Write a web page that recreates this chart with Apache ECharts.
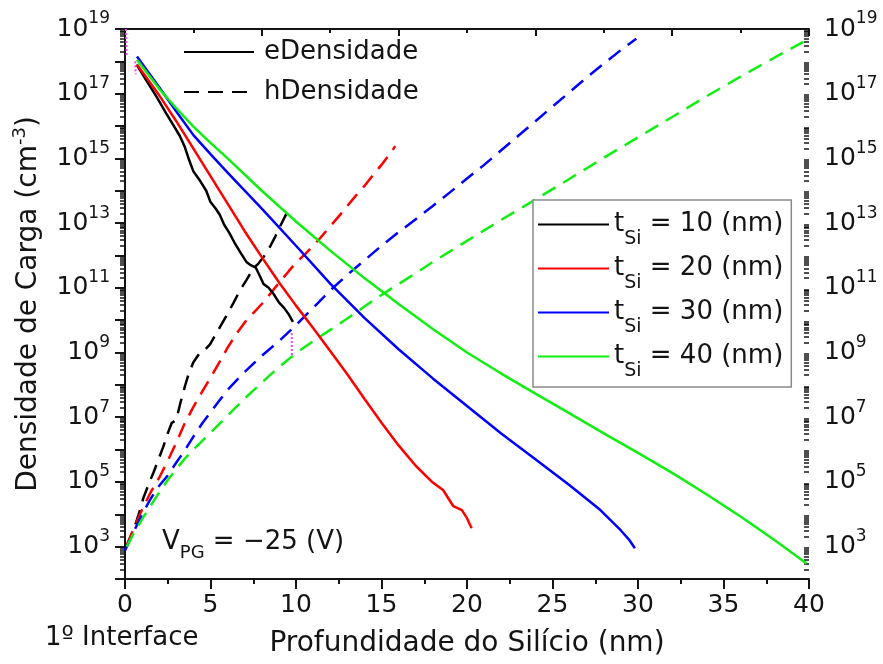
<!DOCTYPE html>
<html>
<head>
<meta charset="utf-8">
<script src="https://cdn.jsdelivr.net/npm/echarts@6/dist/echarts.min.js"></script>
<style>
  html, body { margin: 0; padding: 0; background: #fff; }
  #chart { width: 883px; height: 664px; }
</style>
</head>
<body>
<div id="chart"></div>
<script>
// Silicon film thicknesses and their line colours
const thicknessNm = [10, 20, 30, 40];
const seriesColors = ['#000000', '#ff0000', '#0000ff', '#11ee11'];

// Electron density: [depth (nm), log10(density / cm^-3)]
const electron10 = [[0.68,17.9],[1.2,17.45],[1.85,16.9],[2.4,16.4],[2.8,16.05],[3.2,15.7],[3.5,15.35],[3.75,14.95],[4.0,14.6],[4.4,14.3],[4.75,14.0],[5.0,13.65],[5.3,13.45],[5.55,13.25],[5.8,12.95],[6.1,12.7],[6.4,12.4],[6.8,12.05],[7.1,11.8],[7.3,11.72],[7.65,11.62],[7.9,11.35],[8.1,11.12],[8.4,11.0],[8.7,10.8],[9.0,10.55],[9.3,10.38],[9.55,10.2],[9.82,9.95]];
const electron20 = [[0.7,17.9],[2,16.95],[3,16.15],[4,15.3],[5,14.45],[6,13.6],[7,12.75],[8,11.95],[9,11.17],[10,10.45],[11,9.76],[12,9.05],[13,8.33],[14,7.57],[15,6.83],[16,6.13],[17,5.5],[18,4.98],[18.6,4.75],[19.2,4.25],[19.7,4.13],[20.0,3.88],[20.27,3.57]];
const electron30 = [[0.7,18.15],[2,17.2],[3,16.45],[4,15.72],[5,15.13],[6,14.56],[8,13.45],[10,12.3],[12,11.13],[14,10.07],[16,9.1],[18,8.2],[20,7.35],[22,6.5],[24,5.7],[26,4.9],[27.8,4.13],[29,3.5],[29.5,3.2],[29.82,2.95]];
const electron40 = [[0.7,18.05],[2,17.15],[3,16.55],[4,15.98],[5,15.48],[6,15.0],[8,14.0],[10,13.05],[12,12.15],[14,11.3],[16,10.5],[18,9.73],[20,9.0],[22,8.35],[24,7.73],[26,7.12],[28,6.5],[30,5.9],[32,5.28],[34,4.62],[36,3.93],[38,3.2],[39.86,2.48]];

// Hole density: [depth (nm), log10(density / cm^-3)]
const hole10 = [[0.1,3.0],[0.49,3.5],[0.8,4.0],[1.07,4.5],[1.4,4.95],[1.65,5.27],[2.0,5.75],[2.24,6.09],[2.5,6.5],[2.73,6.82],[3.0,6.92],[3.22,7.4],[3.5,7.95],[3.7,8.3],[4.0,8.7],[4.39,9.0],[4.7,9.1],[4.97,9.25],[5.46,9.7],[6.0,10.2],[6.33,10.52],[6.7,10.9],[7.1,11.24],[7.5,11.6],[7.8,11.75],[8.1,11.95],[8.48,12.27],[8.8,12.6],[9.06,12.89],[9.45,13.3]];
const hole20 = [[0.1,3.05],[0.5,3.55],[1.0,4.15],[1.5,4.68],[2.0,5.13],[2.5,5.65],[3.0,6.22],[3.5,6.82],[4.0,7.32],[4.5,7.78],[5.0,8.22],[5.5,8.68],[6.0,9.15],[6.5,9.57],[7.0,9.93],[7.5,10.22],[8.0,10.5],[8.5,10.82],[9.0,11.15],[9.6,11.53],[10.0,11.78],[10.55,12.05],[11.0,12.3],[11.45,12.56],[12.0,12.9],[12.6,13.27],[13.0,13.53],[13.5,13.85],[14.0,14.15],[14.45,14.45],[15.0,14.8],[15.55,15.18],[15.8,15.38]];
const hole30 = [[0.0,2.88],[0.5,3.45],[1.0,4.0],[1.5,4.48],[2.0,4.88],[2.5,5.2],[3.0,5.6],[3.5,5.98],[4.0,6.4],[4.5,6.8],[5.0,7.15],[5.5,7.5],[6.0,7.85],[7.0,8.4],[8.0,8.9],[9.0,9.35],[10.0,9.85],[11.0,10.38],[12.0,10.92],[13.0,11.4],[14.0,11.85],[15.0,12.3],[16.0,12.72],[17.0,13.12],[18.0,13.53],[19.0,13.95],[20.0,14.38],[21.0,14.8],[22.0,15.25],[23.0,15.7],[24.0,16.15],[25.0,16.6],[26.0,17.05],[27.0,17.5],[28.0,17.93],[29.0,18.35],[29.9,18.7]];
const hole40 = [[0.1,3.0],[0.5,3.4],[1.0,3.85],[1.5,4.27],[2.0,4.68],[2.5,5.06],[3.0,5.4],[3.5,5.72],[4.0,6.0],[4.5,6.26],[5.0,6.52],[6.0,7.05],[7.0,7.58],[8.0,8.07],[9.0,8.55],[10.0,8.98],[11.0,9.35],[12.0,9.7],[13.0,10.05],[14.0,10.42],[15.0,10.78],[16.0,11.12],[17.0,11.45],[18.0,11.8],[20.0,12.45],[22.0,13.1],[24.0,13.73],[26.0,14.37],[28.0,15.02],[30.0,15.65],[32.0,16.28],[34.0,16.92],[36.0,17.53],[38.0,18.12],[39.67,18.6]];

// Short boundary traces (depth, log10 density); '-' breaks the line
const boundaryTrace = [[0.05,19.0],[0.1,18.2],[0.3,'-'],[0.6,18.0],[0.62,17.6],[5,'-'],[9.75,9.6],[9.76,8.9]];

// Axis ticks
const xTickStep = 5;
const xTopTickStep = 8;
const decadeExps = [2,3,4,5,6,7,8,9,10,11,12,13,14,15,16,17,18,19];
const labelExps = [3,5,7,9,11,13,15,17,19];

const FONT = 'DejaVu Sans';
const INK = '#141414';

const toDensity = pts => pts.map(p => [p[0], p[1] === '-' ? '-' : Math.pow(10, p[1])]);
const decadeValues = decadeExps.map(e => Math.pow(10, e));
const labelValues = labelExps.map(e => Math.pow(10, e));
const minorValues = [];
decadeExps.slice(0, -1).forEach(e => {
  for (let m = 2; m <= 9; m++) minorValues.push(m * Math.pow(10, e));
});

const powerLabel = v => '{b|10}{s|' + Math.round(Math.log10(v)) + '}';
const powerRich = {
  b: { fontFamily: FONT, fontSize: 25, lineHeight: 28, color: INK },
  s: { fontFamily: FONT, fontSize: 17, lineHeight: 18, color: INK, padding: [0, 0, 20, 0] }
};

const axisLineStyle = { color: INK, width: 2 };

function logAxis(position, inside, withLabels) {
  return {
    type: 'log', logBase: 10, min: 1e2, max: 1e19, position: position,
    axisLine: { show: true, lineStyle: axisLineStyle },
    axisTick: { show: true, inside: inside, length: 10, customValues: decadeValues, lineStyle: { color: INK, width: 2 } },
    axisLabel: withLabels ? {
      show: true, customValues: labelValues, formatter: powerLabel, rich: powerRich, margin: 15
    } : { show: false },
    splitLine: { show: false },
    minorTick: { show: false },
    minorSplitLine: { show: false }
  };
}
function minorLogAxis(position, inside) {
  return {
    type: 'log', logBase: 10, min: 1e2, max: 1e19, position: position,
    axisLine: { show: false },
    axisTick: { show: true, inside: inside, length: 5, customValues: minorValues, lineStyle: { color: INK, width: 1.5 } },
    axisLabel: { show: false },
    splitLine: { show: false }
  };
}

const leftAxis = logAxis('left', false, true);
leftAxis.name = 'Densidade de Carga (cm{s|-3})';
leftAxis.nameLocation = 'middle';
leftAxis.nameGap = 78;
leftAxis.nameRotate = 90;
leftAxis.nameTextStyle = {
  fontFamily: FONT, fontSize: 28, lineHeight: 30, color: INK,
  rich: { s: { fontFamily: FONT, fontSize: 18, lineHeight: 18, color: INK, padding: [0, 0, 16, 0] } }
};

const series = [];
const eSets = [electron10, electron20, electron30, electron40];
const hSets = [hole10, hole20, hole30, hole40];
thicknessNm.forEach((t, i) => {
  series.push({
    name: 'tSi = ' + t + ' (nm)', type: 'line', symbol: 'none', showSymbol: false,
    data: toDensity(eSets[i]),
    lineStyle: { color: seriesColors[i], width: 2.5 },
    itemStyle: { color: seriesColors[i] }, z: 3
  });
});
thicknessNm.forEach((t, i) => {
  series.push({
    name: 'tSi = ' + t + ' (nm)', type: 'line', symbol: 'none', showSymbol: false,
    data: toDensity(hSets[i]),
    lineStyle: { color: seriesColors[i], width: 2.5, type: [15, 9] },
    itemStyle: { color: seriesColors[i] }, z: 2
  });
});
series.push({
  name: 'eDensidade', type: 'line', symbol: 'none', data: [],
  lineStyle: { color: '#000', width: 2.5 }, itemStyle: { color: '#000' }
});
series.push({
  name: 'hDensidade', type: 'line', symbol: 'none', data: [],
  lineStyle: { color: '#000', width: 2.5, type: [15, 9] }, itemStyle: { color: '#000' }
});
series.push({
  name: 'fronteira', type: 'line', symbol: 'none', connectNulls: false,
  data: toDensity(boundaryTrace),
  lineStyle: { color: '#ee44ee', width: 2, type: 'dotted' }, z: 4
});

const chart = echarts.init(document.getElementById('chart'), null, { renderer: 'canvas' });
chart.setOption({
  animation: false,
  backgroundColor: '#ffffff',
  textStyle: { fontFamily: FONT, color: INK },
  grid: { left: 125, top: 29, right: 74, bottom: 85, containLabel: false, outerBoundsMode: 'none' },
  legend: [
    {
      data: ['eDensidade', 'hDensidade'],
      orient: 'vertical', left: 183, top: 37, padding: 0, itemGap: 10,
      itemWidth: 70, itemHeight: 14,
      itemStyle: { opacity: 0 },
      textStyle: { fontFamily: FONT, fontSize: 26, lineHeight: 30, color: INK, padding: [0, 0, 0, 5] }
    },
    {
      data: thicknessNm.map(t => 'tSi = ' + t + ' (nm)'),
      orient: 'vertical', left: 533, top: 200, padding: [0, 8, 6, 4], itemGap: -5,
      itemWidth: 71, itemHeight: 14,
      itemStyle: { opacity: 0 },
      borderColor: '#8a8a8a', borderWidth: 1.5, backgroundColor: '#ffffff',
      formatter: name => '{m|t}{s|Si}{m|' + name.slice(3) + '}',
      textStyle: {
        fontFamily: FONT, fontSize: 26, color: INK,
        rich: {
          m: { fontFamily: FONT, fontSize: 26, lineHeight: 30, color: INK },
          s: { fontFamily: FONT, fontSize: 19, lineHeight: 14, color: INK, padding: [30, 0, 0, 0] }
        }
      }
    }
  ],
  xAxis: [
    {
      type: 'value', position: 'bottom', min: 0, max: 40, interval: xTickStep,
      axisLine: { show: true, onZero: false, lineStyle: axisLineStyle },
      axisTick: { show: true, inside: false, length: 10, lineStyle: { color: INK, width: 2 } },
      minorTick: { show: true, splitNumber: 2, length: 5, lineStyle: { color: INK, width: 2 } },
      splitLine: { show: false },
      axisLabel: { fontFamily: FONT, fontSize: 25, color: INK, margin: 14 },
      name: 'Profundidade do Silício (nm)', nameLocation: 'middle', nameGap: 51,
      nameTextStyle: { fontFamily: FONT, fontSize: 28, color: INK }
    },
    {
      type: 'value', position: 'top', min: 0, max: 40, interval: xTopTickStep,
      axisLine: { show: true, onZero: false, lineStyle: axisLineStyle },
      axisTick: { show: true, inside: true, length: 7, lineStyle: { color: INK, width: 2 } },
      minorTick: { show: true, splitNumber: 2, length: 4, lineStyle: { color: INK, width: 2 } },
      splitLine: { show: false },
      axisLabel: { show: false }
    }
  ],
  yAxis: [
    leftAxis,
    logAxis('right', true, true),
    minorLogAxis('left', false),
    minorLogAxis('right', true)
  ],
  graphic: [
    {
      type: 'text', x: 45, y: 638,
      style: { text: '1º Interface', fontFamily: FONT, fontSize: 26, fill: INK, verticalAlign: 'middle' }
    },
    {
      type: 'text', x: 162, y: 542,
      style: {
        text: '{m|V}{s|PG}{m| = −25 (V)}', fill: INK, verticalAlign: 'middle',
        fontFamily: FONT, fontSize: 26,
        rich: {
          m: { fontFamily: FONT, fontSize: 26, lineHeight: 30, fill: INK },
          s: { fontFamily: FONT, fontSize: 18, lineHeight: 14, fill: INK, padding: [22, 0, 0, 0] }
        }
      }
    }
  ],
  series: series
});
</script>
</body>
</html>
